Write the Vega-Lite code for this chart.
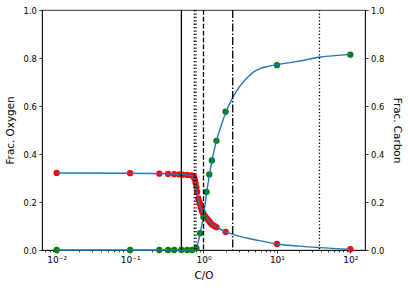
{
  "$schema": "https://vega.github.io/schema/vega-lite/v6.json",
  "width": 323,
  "height": 240,
  "autosize": {"type": "none"},
  "padding": {"left": 42, "top": 10, "right": 43, "bottom": 39},
  "background": "white",
  "config": {
    "view": {"stroke": "#000", "strokeWidth": 0.8},
    "font": "DejaVu Sans",
    "axis": {
      "domainColor": "#000", "tickColor": "#000", "labelColor": "#000", "titleColor": "#000",
      "labelFontSize": 8.4, "titleFontSize": 10.4, "titleFontWeight": "normal",
      "grid": false, "tickSize": 3.1, "labelPadding": 2.5, "domainWidth": 0.8, "tickWidth": 0.8,
      "labelFont": "DejaVu Sans", "titleFont": "DejaVu Sans"
    }
  },
  "datasets": {
    "oxy_pts": [
      {"co": 0.01, "frac": 0.321}, {"co": 0.1, "frac": 0.320}, {"co": 0.25, "frac": 0.318},
      {"co": 0.33, "frac": 0.317}, {"co": 0.4, "frac": 0.316}, {"co": 0.47, "frac": 0.315},
      {"co": 0.52, "frac": 0.314}, {"co": 0.6, "frac": 0.313}, {"co": 0.68, "frac": 0.311},
      {"co": 0.72, "frac": 0.309}, {"co": 0.74, "frac": 0.305}, {"co": 0.76, "frac": 0.295},
      {"co": 0.78, "frac": 0.28}, {"co": 0.8, "frac": 0.262}, {"co": 0.82, "frac": 0.242},
      {"co": 0.85, "frac": 0.215}, {"co": 0.88, "frac": 0.2}, {"co": 0.9, "frac": 0.19},
      {"co": 0.92, "frac": 0.176}, {"co": 0.95, "frac": 0.163}, {"co": 0.98, "frac": 0.155},
      {"co": 1.0, "frac": 0.15}, {"co": 1.05, "frac": 0.141}, {"co": 1.1, "frac": 0.133},
      {"co": 1.15, "frac": 0.126}, {"co": 1.2, "frac": 0.119}, {"co": 1.25, "frac": 0.112},
      {"co": 1.3, "frac": 0.106}, {"co": 1.4, "frac": 0.1}, {"co": 1.5, "frac": 0.095},
      {"co": 2.0, "frac": 0.075}, {"co": 10, "frac": 0.025}, {"co": 100, "frac": 0.003}
    ],
    "oxy_line": [
      {"co": 0.01, "frac": 0.321}, {"co": 0.1, "frac": 0.32}, {"co": 0.3, "frac": 0.318},
      {"co": 0.5, "frac": 0.315}, {"co": 0.6, "frac": 0.313}, {"co": 0.68, "frac": 0.31},
      {"co": 0.72, "frac": 0.305}, {"co": 0.75, "frac": 0.295}, {"co": 0.78, "frac": 0.275},
      {"co": 0.8, "frac": 0.255}, {"co": 0.83, "frac": 0.225}, {"co": 0.87, "frac": 0.195},
      {"co": 0.92, "frac": 0.172}, {"co": 1.0, "frac": 0.15}, {"co": 1.1, "frac": 0.133},
      {"co": 1.2, "frac": 0.119}, {"co": 1.35, "frac": 0.105}, {"co": 1.5, "frac": 0.096},
      {"co": 2.0, "frac": 0.075}, {"co": 2.4, "frac": 0.067}, {"co": 3.0, "frac": 0.058},
      {"co": 4.0, "frac": 0.049}, {"co": 6.5, "frac": 0.036}, {"co": 10, "frac": 0.025},
      {"co": 20, "frac": 0.016}, {"co": 38, "frac": 0.01}, {"co": 100, "frac": 0.003}
    ],
    "carb_pts": [
      {"co": 0.01, "frac": 0.0}, {"co": 0.1, "frac": 0.0}, {"co": 0.25, "frac": 0.0},
      {"co": 0.33, "frac": 0.0}, {"co": 0.4, "frac": 0.0}, {"co": 0.5, "frac": 0.0},
      {"co": 0.6, "frac": 0.0}, {"co": 0.7, "frac": 0.0}, {"co": 0.8, "frac": 0.008},
      {"co": 0.9, "frac": 0.07}, {"co": 1.0, "frac": 0.136}, {"co": 1.1, "frac": 0.242},
      {"co": 1.2, "frac": 0.315}, {"co": 1.3, "frac": 0.373}, {"co": 1.5, "frac": 0.455},
      {"co": 2.0, "frac": 0.576}, {"co": 10, "frac": 0.77}, {"co": 100, "frac": 0.814}
    ],
    "carb_line": [
      {"co": 0.01, "frac": 0.0}, {"co": 0.5, "frac": 0.0}, {"co": 0.7, "frac": 0.0},
      {"co": 0.76, "frac": 0.002}, {"co": 0.8, "frac": 0.01}, {"co": 0.85, "frac": 0.035},
      {"co": 0.9, "frac": 0.07}, {"co": 0.95, "frac": 0.105}, {"co": 1.0, "frac": 0.14},
      {"co": 1.05, "frac": 0.19}, {"co": 1.1, "frac": 0.235}, {"co": 1.2, "frac": 0.31},
      {"co": 1.3, "frac": 0.37}, {"co": 1.5, "frac": 0.455}, {"co": 1.75, "frac": 0.52},
      {"co": 2.0, "frac": 0.572}, {"co": 2.5, "frac": 0.635}, {"co": 3.15, "frac": 0.684},
      {"co": 4.0, "frac": 0.72}, {"co": 5.0, "frac": 0.745}, {"co": 6.0, "frac": 0.757},
      {"co": 7.5, "frac": 0.765}, {"co": 10, "frac": 0.772}, {"co": 20, "frac": 0.787},
      {"co": 38, "frac": 0.803}, {"co": 100, "frac": 0.815}
    ],
    "vlines": [
      {"co": 0.5, "style": "solid"}, {"co": 0.75, "style": "dotted"}, {"co": 0.79, "style": "dotted"},
      {"co": 1.0, "style": "dashed"}, {"co": 2.5, "style": "dashdot"}, {"co": 38, "style": "dotted"}
    ]
  },
  "layer": [
    {
      "layer": [
        {
          "data": {"name": "oxy_pts"},
          "mark": {"type": "circle", "size": 40, "opacity": 1, "color": "#ff0000"},
          "encoding": {
            "x": {
              "field": "co", "type": "quantitative",
              "scale": {"type": "log", "domain": [0.00631, 158.5], "nice": false},
              "axis": {
                "title": "C/O",
                "values": [0.007, 0.008, 0.009, 0.01, 0.02, 0.03, 0.04, 0.05, 0.06, 0.07, 0.08, 0.09, 0.1, 0.2, 0.3, 0.4, 0.5, 0.6, 0.7, 0.8, 0.9, 1, 2, 3, 4, 5, 6, 7, 8, 9, 10, 20, 30, 40, 50, 60, 70, 80, 90, 100],
                "labelExpr": "datum.value==0.01?'10⁻²':datum.value==0.1?'10⁻¹':datum.value==1?'10⁰':datum.value==10?'10¹':datum.value==100?'10²':''",
                "labelOverlap": false,
                "labelFlush": false,
                "labelFontSize": 9,
                "tickSize": {"condition": {"test": "indexof([0.01,0.1,1,10,100], datum.value) >= 0", "value": 3.1}, "value": 1.8},
                "titlePadding": 6
              }
            },
            "y": {
              "field": "frac", "type": "quantitative",
              "scale": {"domain": [0, 1], "nice": false},
              "axis": {"title": "Frac. Oxygen", "values": [0, 0.2, 0.4, 0.6, 0.8, 1.0], "format": ".1f", "orient": "left", "titlePadding": 8}
            }
          }
        },
        {
          "data": {"name": "oxy_line"},
          "mark": {"type": "line", "color": "#1f77b4", "strokeWidth": 1.4, "interpolate": "monotone"},
          "encoding": {
            "x": {"field": "co", "type": "quantitative"},
            "y": {"field": "frac", "type": "quantitative"}
          }
        }
      ]
    },
    {
      "layer": [
        {
          "data": {"name": "carb_pts"},
          "mark": {"type": "circle", "size": 40, "opacity": 1, "color": "#008000"},
          "encoding": {
            "x": {"field": "co", "type": "quantitative"},
            "y": {
              "field": "frac", "type": "quantitative",
              "scale": {"domain": [0, 1], "nice": false},
              "axis": {"title": "Frac. Carbon", "values": [0, 0.2, 0.4, 0.6, 0.8, 1.0], "format": ".1f", "orient": "right", "titlePadding": 8}
            }
          }
        },
        {
          "data": {"name": "carb_line"},
          "mark": {"type": "line", "color": "#1f77b4", "strokeWidth": 1.4, "interpolate": "monotone"},
          "encoding": {
            "x": {"field": "co", "type": "quantitative"},
            "y": {"field": "frac", "type": "quantitative"}
          }
        }
      ]
    },
    {
      "data": {"name": "vlines"},
      "mark": {"type": "rule", "color": "#000", "strokeWidth": 1.3},
      "encoding": {
        "x": {"field": "co", "type": "quantitative"},
        "strokeDash": {
          "field": "style", "type": "nominal",
          "scale": {"domain": ["solid", "dotted", "dashed", "dashdot"], "range": [[1, 0], [1.3, 2.1], [4.8, 2.1], [8, 2.1, 1.3, 2.1]]},
          "legend": null
        }
      }
    }
  ],
  "resolve": {"scale": {"y": "independent"}}
}
